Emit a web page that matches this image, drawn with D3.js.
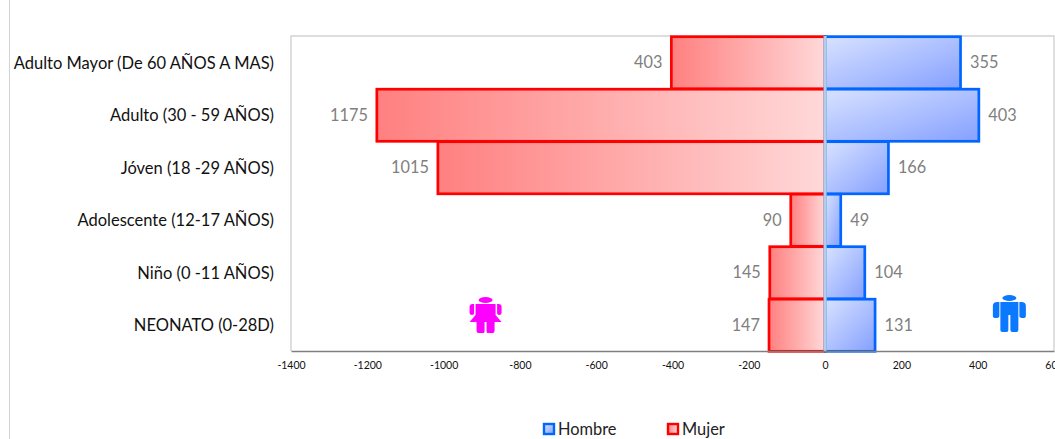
<!DOCTYPE html>
<html><head><meta charset="utf-8">
<script src="https://cdnjs.cloudflare.com/ajax/libs/d3/7.8.5/d3.min.js"></script>
<style>html,body{margin:0;padding:0;background:#fff;overflow:hidden}svg{display:block;font-family:Lato,"Open Sans",sans-serif;font-variant-numeric:tabular-nums}</style>
</head><body><div id="c"></div>
<script>
const categories = ["Adulto Mayor (De 60 AÑOS A MAS)","Adulto (30 - 59 AÑOS)","Jóven (18 -29 AÑOS)","Adolescente (12-17 AÑOS)","Niño (0 -11 AÑOS)","NEONATO (0-28D)"];
const mujer = [403,1175,1015,90,145,147];
const hombre = [355,403,166,41,104,131];
const mujerLabels = ["403","1175","1015","90","145","147"];
const hombreLabels = ["355","403","166","49","104","131"];
const xTicks = [-1400,-1200,-1000,-800,-600,-400,-200,0,200,400,600];
const legendItems = ["Hombre","Mujer"];

const W=1055,H=439;
const svg=d3.select("#c").append("svg").attr("width",W).attr("height",H);
const x=d3.scaleLinear().domain([-1400,600]).range([291,1054]);
const y=d3.scaleBand().domain(categories).range([36,351]).padding(0);

const defs=svg.append("defs");
const gr=defs.append("linearGradient").attr("id","gr").attr("x1",0).attr("x2",1).attr("y1",0).attr("y2",0);
gr.append("stop").attr("offset",0).attr("stop-color","#ff8080");
gr.append("stop").attr("offset",1).attr("stop-color","#ffd8d8");
const gb=defs.append("linearGradient").attr("id","gb").attr("x1",0).attr("x2",1).attr("y1",0).attr("y2",1);
gb.append("stop").attr("offset",0).attr("stop-color","#d8e2ff");
gb.append("stop").attr("offset",1).attr("stop-color","#85a0ff");

svg.append("line").attr("x1",9.5).attr("x2",9.5).attr("y1",0).attr("y2",H).attr("stroke","#d4d4d4");

svg.append("path").attr("fill","none").attr("stroke","#d2d2d2").attr("stroke-width",1.4)
  .attr("d",`M${x.range()[0]},${y.range()[1]}V${y.range()[0]}H${x.range()[1]}V${y.range()[1]}`);

svg.append("g").selectAll("rect").data(categories).join("rect")
  .attr("x",(d,i)=>x(-mujer[i])).attr("width",(d,i)=>x(0)-x(-mujer[i]))
  .attr("y",d=>y(d)+0.7).attr("height",y.bandwidth()-0.4)
  .attr("fill","url(#gr)").attr("stroke","#ff0000").attr("stroke-width",2.7);
svg.append("g").selectAll("rect").data(categories).join("rect")
  .attr("x",x(0)).attr("width",(d,i)=>x(hombre[i])-x(0))
  .attr("y",d=>y(d)+0.7).attr("height",y.bandwidth()-0.4)
  .attr("fill","url(#gb)").attr("stroke","#0066ff").attr("stroke-width",2.7);

svg.append("g").selectAll("text").data(categories).join("text")
  .attr("x",(d,i)=>x(-mujer[i])-9).attr("y",d=>y(d)+y.bandwidth()/2+6)
  .attr("text-anchor","end").attr("fill","#7f7f7f").attr("font-size","16.3px")
  .text((d,i)=>mujerLabels[i]);
svg.append("g").selectAll("text").data(categories).join("text")
  .attr("x",(d,i)=>x(hombre[i])+9.5).attr("y",d=>y(d)+y.bandwidth()/2+6)
  .attr("fill","#7f7f7f").attr("font-size","16.3px")
  .text((d,i)=>hombreLabels[i]);

svg.append("g").selectAll("text").data(categories).join("text")
  .attr("x",274).attr("y",d=>y(d)+y.bandwidth()/2+6.5)
  .attr("text-anchor","end").attr("fill","#111").attr("font-size","16.5px").text(d=>d);

// centre line hides the vertical bar edges at zero
svg.append("line").attr("x1",x(0)).attr("x2",x(0)).attr("y1",36).attr("y2",351).attr("stroke","#b4cde6").attr("stroke-width",3);

const ax=svg.append("g").attr("transform",`translate(0,${y.range()[1]})`)
  .call(d3.axisBottom(x).tickValues(xTicks).tickSize(0).tickPadding(11).tickFormat(d=>String(d)));
ax.select(".domain").attr("stroke","#7f7f7f").attr("stroke-width",1.5);
ax.selectAll("text").attr("font-family","Lato,sans-serif").attr("font-size","10.5px").attr("fill","#111");

function figure(g,color,female){
  g.append("ellipse").attr("cx",0).attr("cy",female?-16:-15).attr("rx",7).attr("ry",3).attr("fill",color);
  if(female){
    g.append("path").attr("fill",color).attr("d",
      "M-10,-12 H10 L10,-1 L16,6 L9,6 V15 Q9,17 7,17 H2 Q1,17 1,15 V6 H-1 V15 Q-1,17 -2,17 H-7 Q-9,17 -9,15 V6 L-16,6 L-10,-1 Z");
    [-1,1].forEach(s=>g.append("path").attr("fill",color)
      .attr("d",`M${s*11.5},-12 H${s*13} Q${s*16},-12 ${s*16},-9 V-3 Q${s*16},-1 ${s*13.5},-1 Q${s*11.5},-1 ${s*11.5},-3 Z`));
  } else {
    g.append("path").attr("fill",color).attr("d",
      "M-9,-11 H9 V17 Q9,19 7,19 H3 Q1,19 1,17 V2 H-1 V17 Q-1,19 -3,19 H-7 Q-9,19 -9,17 Z");
    [-1,1].forEach(s=>g.append("path").attr("fill",color)
      .attr("d",`M${s*10},-11 H${s*12} Q${s*16.5},-11 ${s*16.5},-7 V3 Q${s*16.5},5 ${s*13.5},5 Q${s*10},5 ${s*10},3 Z`));
  }
}
figure(svg.append("g").attr("transform",`translate(${x(-890)},316)`),"#ff00ff",true);
figure(svg.append("g").attr("transform",`translate(${x(483)},313)`),"#0a78ff",false);

const legendX=d3.scaleOrdinal().domain(legendItems).range([544,668]);
const lg=svg.append("g").selectAll("g").data(legendItems).join("g").attr("transform",d=>`translate(${legendX(d)},424)`);
lg.append("rect").attr("width",10).attr("height",10)
  .attr("fill",d=>d==="Hombre"?"url(#gb)":"url(#gr)")
  .attr("stroke",d=>d==="Hombre"?"#0066ff":"#ff0000").attr("stroke-width",2.4);
lg.append("text").attr("x",14).attr("y",10.5).attr("font-size","16.4px").attr("fill","#222").text(d=>d);
</script></body></html>
